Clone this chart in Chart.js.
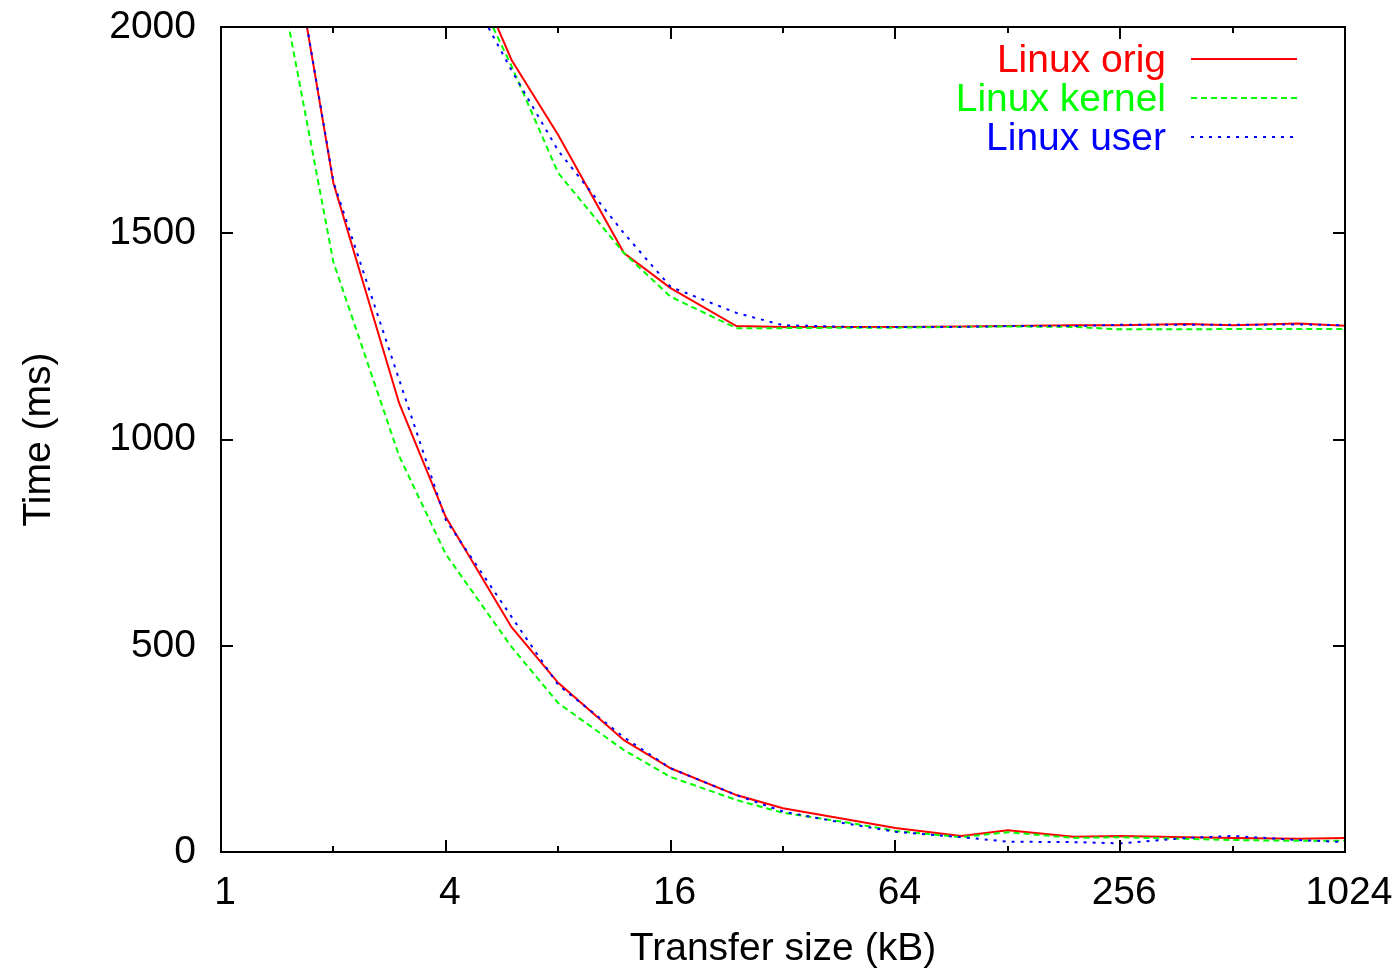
<!DOCTYPE html>
<html>
<head>
<meta charset="utf-8">
<script src="https://cdn.jsdelivr.net/npm/chart.js@4/dist/chart.umd.min.js"></script>
<style>
  html, body { margin: 0; padding: 0; background: #fff; }
  #wrap { width: 1398px; height: 970px; }
</style>
</head>
<body>
<div id="wrap"><canvas id="grafik" width="1398" height="970"></canvas></div>
<script>
// ukuran transfer (kB)
var sizes = [1, 2, 3, 4, 6, 8, 12, 16, 24, 32, 48, 64, 96, 128, 192, 256, 384, 512, 768, 1024];
var sizesUpper = [4, 6, 8, 12, 16, 24, 32, 48, 64, 96, 128, 192, 256, 384, 512, 768, 1024];

// kurva bawah
var origLow   = [3230, 1622, 1088, 812, 545, 410, 271, 203, 138, 106, 78, 58, 39, 53, 37, 39, 36, 34, 32, 34];
var kernelLow = [2870, 1430, 960, 722, 497, 361, 247, 182, 126, 95, 71, 51, 36, 48, 34, 36, 32, 29, 27, 27];
var userLow   = [3230, 1625, 1145, 805, 570, 405, 278, 203, 138, 98, 68, 49, 36, 25, 24, 21, 34, 39, 29, 24];

// kurva atas
var origHigh   = [2290, 1920, 1738, 1452, 1367, 1275, 1273, 1273, 1273, 1274, 1275, 1277, 1277, 1280, 1277, 1281, 1276];
var kernelHigh = [2240, 1905, 1646, 1452, 1346, 1270, 1270, 1271, 1271, 1273, 1274, 1273, 1267, 1267, 1268, 1268, 1268];
var userHigh   = [2190, 1895, 1700, 1500, 1370, 1307, 1277, 1273, 1273, 1273, 1275, 1275, 1278, 1278, 1278, 1279, 1277];

var seriesNames = ['Linux orig', 'Linux kernel', 'Linux user'];
var seriesColors = ['#ff0000', '#00ff00', '#0000ff'];
var seriesDash = [[], [6, 4], [3, 6]];

var xMajor = [1, 4, 16, 64, 256, 1024];
var xMinor = [2, 8, 32, 128, 512];
var yTicks = [0, 500, 1000, 1500, 2000];

var FONT = "'Liberation Sans', Arial, Helvetica, sans-serif";
var FSIZE = 39;

function pts(xs, ys) {
    return xs.map(function(x, i) { return { x: x, y: ys[i] }; });
}

function mkSet(idx, data) {
    return {
        label: seriesNames[idx],
        data: data,
        borderColor: seriesColors[idx],
        borderWidth: 2,
        borderDash: seriesDash[idx],
        pointRadius: 0,
        fill: false,
        tension: 0,
        order: 2 - idx
    };
}

// bingkai, tick ke dalam, dan legenda ala gnuplot
var framePlugin = {
    id: 'frame',
    afterDraw: function(chart) {
        var c = chart.ctx, a = chart.chartArea;
        var sx = chart.scales.x, sy = chart.scales.y;
        c.save();
        c.strokeStyle = '#000';
        c.lineWidth = 2;
        c.strokeRect(a.left, a.top, a.right - a.left, a.bottom - a.top);
        c.beginPath();
        yTicks.forEach(function(v) {
            var p = Math.round(sy.getPixelForValue(v));
            c.moveTo(a.left, p); c.lineTo(a.left + 12, p);
            c.moveTo(a.right, p); c.lineTo(a.right - 12, p);
        });
        xMajor.forEach(function(v) {
            var p = Math.round(sx.getPixelForValue(v));
            c.moveTo(p, a.bottom); c.lineTo(p, a.bottom - 12);
            c.moveTo(p, a.top); c.lineTo(p, a.top + 12);
        });
        xMinor.forEach(function(v) {
            var p = Math.round(sx.getPixelForValue(v));
            c.moveTo(p, a.bottom); c.lineTo(p, a.bottom - 6);
            c.moveTo(p, a.top); c.lineTo(p, a.top + 6);
        });
        c.stroke();

        // legenda
        c.font = FSIZE + 'px ' + FONT;
        c.textAlign = 'right';
        c.textBaseline = 'middle';
        seriesNames.forEach(function(name, i) {
            var y = 59 + i * 39;
            c.fillStyle = seriesColors[i];
            c.fillText(name, 1166, y + 2);
            c.strokeStyle = seriesColors[i];
            c.lineWidth = 2;
            c.setLineDash(seriesDash[i]);
            c.beginPath();
            c.moveTo(1191, y);
            c.lineTo(1297, y);
            c.stroke();
            c.setLineDash([]);
        });
        c.restore();
    }
};

var ctx = document.getElementById('grafik').getContext('2d');
var myChart = new Chart(ctx, {
    type: 'line',
    data: {
        datasets: [
            mkSet(0, pts(sizes, origLow)),
            mkSet(1, pts(sizes, kernelLow)),
            mkSet(2, pts(sizes, userLow)),
            mkSet(0, pts(sizesUpper, origHigh)),
            mkSet(1, pts(sizesUpper, kernelHigh)),
            mkSet(2, pts(sizesUpper, userHigh))
        ]
    },
    options: {
        responsive: false,
        animation: false,
        layout: { padding: { top: 27, right: 53, left: 0, bottom: 0 } },
        plugins: {
            legend: { display: false },
            tooltip: { enabled: false }
        },
        scales: {
            x: {
                type: 'logarithmic',
                min: 1,
                max: 1024,
                grid: { display: false, drawTicks: false },
                border: { display: false },
                afterBuildTicks: function(scale) {
                    scale.ticks = xMajor.map(function(v) { return { value: v }; });
                },
                afterFit: function(scale) {
                    scale.height = 118;
                    scale.paddingLeft = 0;
                    scale.paddingRight = 0;
                },
                ticks: {
                    autoSkip: false,
                    maxRotation: 0,
                    padding: 18,
                    labelOffset: 4,
                    color: '#000',
                    font: { family: FONT, size: FSIZE },
                    callback: function(v) { return String(v); }
                },
                title: {
                    display: true,
                    text: 'Transfer size (kB)',
                    color: '#000',
                    font: { family: FONT, size: FSIZE },
                    padding: { top: 0, bottom: -3 }
                }
            },
            y: {
                min: 0,
                max: 2000,
                grid: { display: false, drawTicks: false },
                border: { display: false },
                afterBuildTicks: function(scale) {
                    scale.ticks = yTicks.map(function(v) { return { value: v }; });
                },
                afterFit: function(scale) {
                    scale.width = 221;
                    scale.paddingTop = 0;
                    scale.paddingBottom = 0;
                },
                ticks: {
                    padding: 25,
                    color: '#000',
                    font: { family: FONT, size: FSIZE },
                    callback: function(v) { return String(v); }
                },
                title: {
                    display: true,
                    text: 'Time (ms)',
                    color: '#000',
                    font: { family: FONT, size: FSIZE },
                    padding: { top: 16, bottom: 0 }
                }
            }
        }
    },
    plugins: [framePlugin]
});
</script>
</body>
</html>
